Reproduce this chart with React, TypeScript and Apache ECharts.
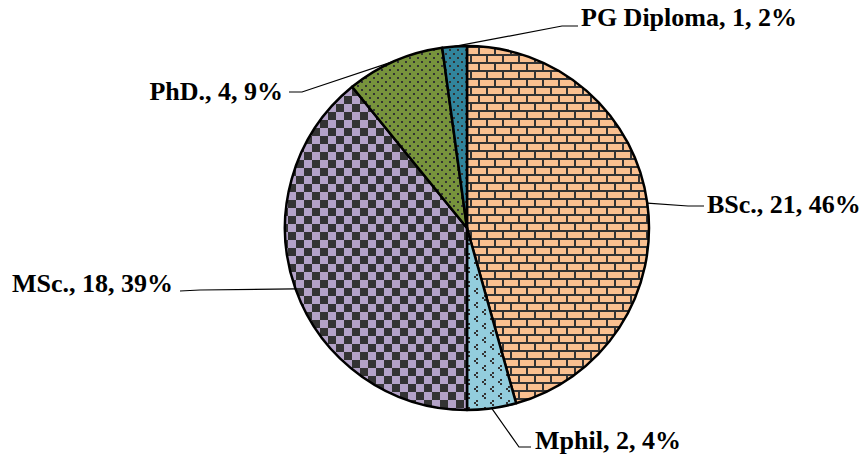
import React, { useEffect, useRef } from "react";
import * as echarts from "echarts";

const categories = ["BSc.", "Mphil", "MSc.", "PhD.", "PG Diploma"];
const counts = [21, 2, 18, 4, 1];

// label layout (text anchor, bend of leader line, end of leader line)
const labelAnchors = [
  { x: 707, y: 204, align: "left", bend: [688, 206], end: [704, 206] },
  { x: 535, y: 440, align: "left", bend: [519, 447], end: [531, 447] },
  { x: 173, y: 283, align: "right", bend: [200, 290], end: [180, 291] },
  { x: 283, y: 91, align: "right", bend: [302, 92], end: [289, 92] },
  { x: 581, y: 17, align: "left", bend: [562, 26], end: [578, 26] },
];

function makeTile(w: number, h: number, draw: (c: CanvasRenderingContext2D) => void) {
  const cv = document.createElement("canvas");
  cv.width = w;
  cv.height = h;
  const ctx = cv.getContext("2d")!;
  draw(ctx);
  return { image: cv, repeat: "repeat", imageWidth: w, imageHeight: h } as any;
}

function brick() {
  return makeTile(16, 16, (c) => {
    c.fillStyle = "#333333";
    c.fillRect(0, 0, 16, 16);
    c.fillStyle = "#FAC090";
    c.fillRect(0, 0, 14, 6);
    c.fillRect(8, 8, 14, 6);
    c.fillRect(-8, 8, 14, 6);
  });
}

function checker() {
  return makeTile(16, 16, (c) => {
    c.fillStyle = "#B3A2C7";
    c.fillRect(0, 0, 16, 16);
    c.fillStyle = "#333333";
    c.fillRect(8, 0, 8, 8);
    c.fillRect(0, 8, 8, 8);
  });
}

function dotted(bg: string, w: number, h: number) {
  return makeTile(w, h, (c) => {
    c.fillStyle = bg;
    c.fillRect(0, 0, w, h);
    c.fillStyle = "#333333";
    c.fillRect(1, 1, 2, 2);
    c.fillRect(1 + w / 2, 1 + h / 2, 2, 2);
  });
}

function chevron() {
  return makeTile(16, 14, (c) => {
    c.fillStyle = "#93CDDD";
    c.fillRect(0, 0, 16, 14);
    c.fillStyle = "#333333";
    const chev = (x: number, y: number) => {
      c.fillRect(x + 2, y, 2, 2);
      c.fillRect(x, y + 2, 2, 2);
      c.fillRect(x + 2, y + 4, 2, 2);
    };
    chev(2, 1);
    chev(10, 8);
  });
}

export default function App() {
  const ref = useRef<HTMLDivElement>(null);
  useEffect(() => {
    document.body.style.margin = "0";
    const chart = echarts.init(ref.current!, null, { renderer: "svg" });
    const fills = [brick(), chevron(), checker(), dotted("#77933C", 8, 8), dotted("#31859C", 8, 8)];
    chart.setOption({
      animation: false,
      backgroundColor: "#ffffff",
      series: [
        {
          type: "pie",
          center: [467, 228],
          radius: 182,
          startAngle: 90,
          clockwise: true,
          percentPrecision: 0,
          data: categories.map((n, i) => ({
            name: n,
            value: counts[i],
            itemStyle: { color: fills[i] },
          })),
          itemStyle: { borderColor: "#000000", borderWidth: 2.5 },
          label: {
            show: true,
            position: "outside",
            formatter: "{b}, {c}, {d}%",
            color: "#000000",
            fontFamily: "'Liberation Serif', 'Times New Roman', serif",
            fontWeight: "bold",
            fontSize: 26,
          },
          labelLine: {
            show: true,
            length: 20,
            length2: 20,
            smooth: false,
            lineStyle: { color: "#000000", width: 1.2 },
          },
          labelLayout: (params: any) => {
            const a = labelAnchors[params.dataIndex];
            const edge = params.labelLinePoints ? params.labelLinePoints[0] : a.bend;
            return {
              x: a.x,
              y: a.y,
              align: a.align,
              verticalAlign: "middle",
              labelLinePoints: [edge, a.bend, a.end],
            };
          },
          emphasis: { disabled: true },
        },
      ],
    });
    return () => chart.dispose();
  }, []);
  return (
    <div
      ref={ref}
      style={{ position: "absolute", left: 0, top: 0, width: 867, height: 457 }}
    />
  );
}
